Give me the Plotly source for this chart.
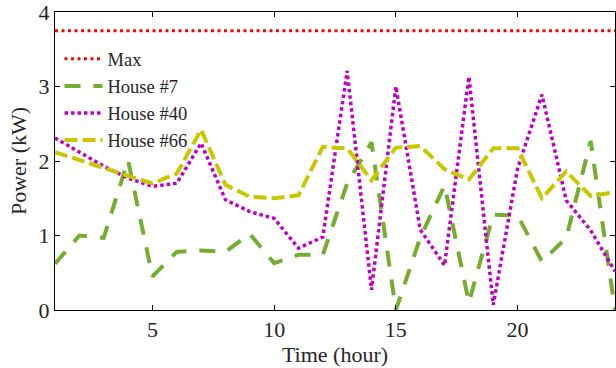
import plotly.graph_objects as go

hours = list(range(1, 25))
max_power = 3.75
house7 = [0.62, 1.0, 0.97, 2.01, 0.45, 0.78, 0.8, 0.78, 1.02, 0.63, 0.74, 0.74,
          1.7, 2.25, 0.0, 0.97, 1.67, 0.1, 1.28, 1.27, 0.65, 0.97, 2.27, 0.0]
house40 = [2.31, 2.12, 1.93, 1.77, 1.66, 1.70, 2.24, 1.48, 1.32, 1.23, 0.83, 0.98,
           3.21, 0.27, 3.0, 1.08, 0.6, 3.13, 0.07, 1.9, 2.89, 1.47, 1.07, 0.52]
house66 = [2.12, 2.01, 1.9, 1.8, 1.7, 1.83, 2.42, 1.68, 1.52, 1.5, 1.54, 2.19,
           2.17, 1.74, 2.18, 2.2, 1.89, 1.75, 2.17, 2.17, 1.5, 1.86, 1.53, 1.58]
x_ticks = [5, 10, 15, 20]
y_ticks = [0, 1, 2, 3, 4]

FONT = "Liberation Serif, Times New Roman, serif"
TXT = "#262626"

fig = go.Figure()
fig.add_trace(go.Scatter(x=hours, y=[max_power] * len(hours), mode="lines", name="Max",
                         line=dict(color="#FF0000", width=3, dash="3px,3.5px")))
fig.add_trace(go.Scatter(x=hours, y=house7, mode="lines", name="House #7",
                         line=dict(color="#77AC30", width=4, dash="16px,13px")))
fig.add_trace(go.Scatter(x=hours, y=house40, mode="lines", name="House #40",
                         line=dict(color="#C000C0", width=3.5, dash="3.5px,3px")))
fig.add_trace(go.Scatter(x=hours, y=house66, mode="lines", name="House #66",
                         line=dict(color="#C8C800", width=4, dash="13px,5px")))

axis_common = dict(showline=True, linecolor="black", linewidth=1, mirror="ticks",
                   ticks="inside", ticklen=5, tickcolor="black", showgrid=False,
                   zeroline=False, ticklabeloverflow="allow",
                   tickfont=dict(family=FONT, size=22, color=TXT))

fig.update_layout(
    width=616, height=368,
    margin=dict(l=55, r=1, t=12, b=58),
    paper_bgcolor="white", plot_bgcolor="white",
    font=dict(family=FONT, size=22, color=TXT),
    showlegend=True,
    legend=dict(x=0.008, y=0.905, xanchor="left", yanchor="top",
                bgcolor="rgba(0,0,0,0)", borderwidth=0, itemwidth=38,
                font=dict(family=FONT, size=18.5, color=TXT),
                tracegroupgap=0),
    xaxis=dict(range=[1, 24], tickvals=x_ticks,
               title=dict(text="Time (hour)", font=dict(family=FONT, size=22, color=TXT), standoff=3),
               **axis_common),
    yaxis=dict(range=[0, 4], tickvals=y_ticks,
               title=dict(text="Power (kW)", font=dict(family=FONT, size=22, color=TXT), standoff=5),
               **axis_common),
)

fig.write_html("out.html")
